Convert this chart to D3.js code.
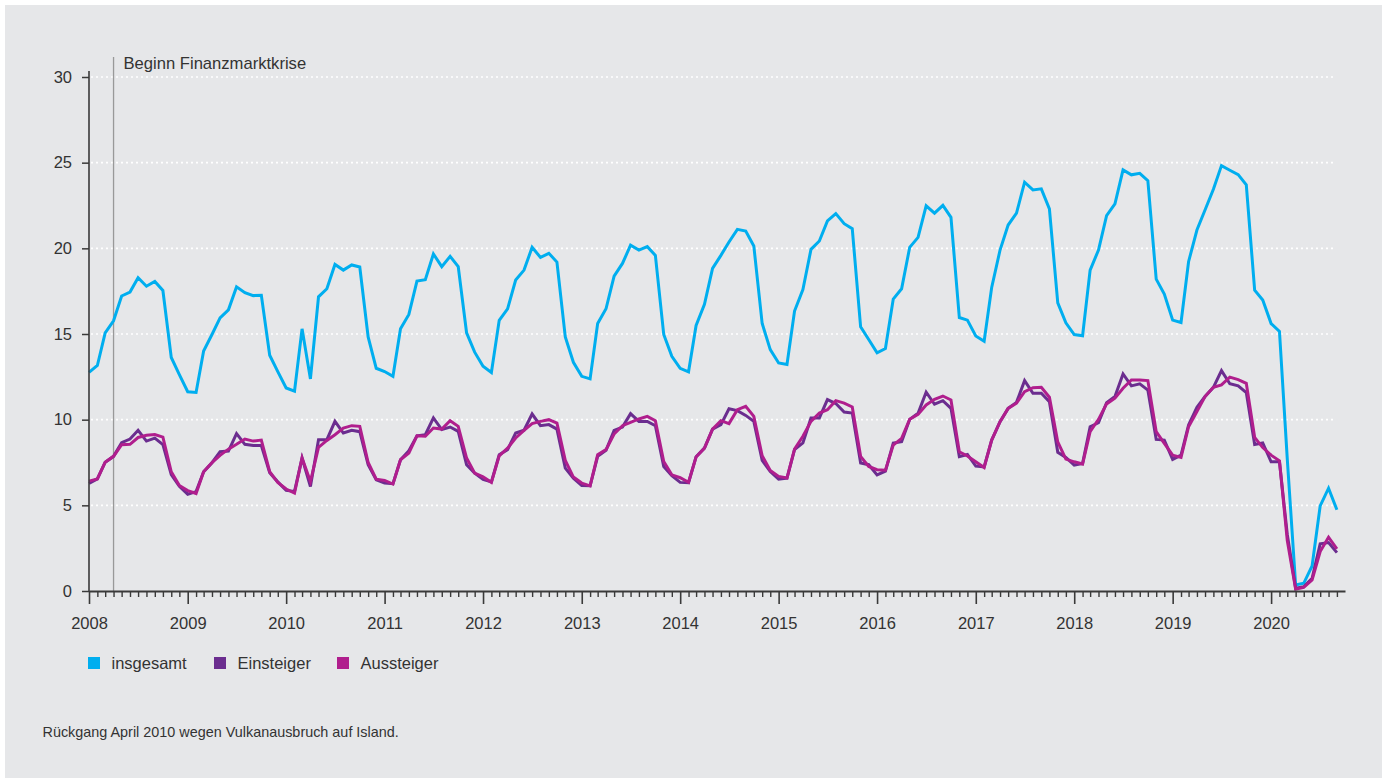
<!DOCTYPE html>
<html><head><meta charset="utf-8">
<script src="https://cdn.jsdelivr.net/npm/d3@7"></script>
<style>body{margin:0;background:#fff}text{font-family:"Liberation Sans",Arial,sans-serif}</style>
</head><body><svg id="c" width="1389" height="783"></svg>
<script>
// ---- data (monthly, Jan 2008 .. Sep 2020) ----
const insgesamt = [
 12.76,13.16,15.07,15.77,17.22,17.45,18.28,17.79,18.07,17.54,13.63,12.63,
 11.63,11.59,14.01,14.97,15.94,16.41,17.75,17.41,17.24,17.26,13.76,12.80,
 11.85,11.66,15.30,12.38,17.17,17.64,19.06,18.73,19.03,18.91,14.83,13.00,
 12.81,12.53,15.30,16.14,18.09,18.17,19.67,18.93,19.53,18.93,15.07,13.94,
 13.12,12.75,15.80,16.47,18.15,18.73,20.06,19.47,19.71,19.20,14.83,13.35,
 12.53,12.38,15.61,16.47,18.38,19.12,20.18,19.90,20.10,19.59,14.97,13.70,
 13.00,12.79,15.50,16.73,18.83,19.59,20.37,21.11,21.01,20.14,15.61,14.09,
 13.31,13.22,16.34,17.60,19.94,20.43,21.60,22.03,21.44,21.15,15.42,14.68,
 13.90,14.15,17.04,17.64,20.06,20.64,22.48,22.05,22.51,21.81,15.96,15.81,
 14.88,14.58,17.72,19.90,21.36,22.05,23.86,23.41,23.47,22.30,16.82,15.65,
 14.97,14.90,18.73,19.90,21.91,22.59,24.58,24.29,24.38,23.95,18.20,17.33,
 15.81,15.67,19.22,21.07,22.24,23.45,24.83,24.56,24.30,23.70,17.56,16.98,
 15.61,15.15,7.70,0.35,0.45,1.46,4.97,6.00,4.74
];
const einsteiger = [
 6.28,6.54,7.52,7.86,8.66,8.87,9.38,8.75,8.92,8.54,6.79,6.11,
 5.65,5.80,6.96,7.49,8.13,8.17,9.19,8.56,8.49,8.49,6.90,6.37,
 5.87,5.81,7.76,6.10,8.83,8.83,9.90,9.22,9.38,9.30,7.37,6.49,
 6.30,6.26,7.66,8.19,9.06,9.12,10.10,9.42,9.57,9.32,7.37,6.88,
 6.51,6.37,7.95,8.25,9.22,9.38,10.33,9.65,9.71,9.45,7.17,6.59,
 6.16,6.14,7.86,8.21,9.38,9.57,10.35,9.90,9.90,9.65,7.27,6.73,
 6.34,6.32,7.84,8.34,9.45,9.71,10.64,10.53,10.25,9.90,7.62,6.98,
 6.53,6.59,8.25,8.64,10.10,10.10,11.17,10.94,10.45,10.39,7.47,7.37,
 6.78,7.00,8.63,8.71,10.02,10.37,11.60,10.90,11.11,10.66,7.84,7.97,
 7.29,7.25,8.81,9.88,10.66,11.01,12.28,11.54,11.54,11.05,8.10,7.80,
 7.35,7.45,9.59,9.82,10.99,11.35,12.67,11.97,12.09,11.73,8.85,8.81,
 7.68,7.93,9.69,10.72,11.35,11.89,12.86,12.10,11.97,11.58,8.55,8.64,
 7.54,7.54,3.30,0.16,0.25,0.74,2.75,2.83,2.24
];
const aussteiger = [
 6.41,6.54,7.52,7.86,8.54,8.56,8.96,9.09,9.13,8.98,6.96,6.16,
 5.86,5.69,6.96,7.49,7.92,8.28,8.56,8.87,8.75,8.81,6.96,6.33,
 5.95,5.71,7.76,6.39,8.38,8.79,9.12,9.51,9.65,9.61,7.50,6.53,
 6.45,6.24,7.66,8.05,9.06,9.03,9.51,9.45,9.94,9.61,7.76,6.88,
 6.66,6.34,7.89,8.34,8.93,9.38,9.77,9.90,10.00,9.80,7.62,6.65,
 6.30,6.14,7.95,8.25,9.16,9.65,9.84,10.04,10.19,9.94,7.56,6.78,
 6.61,6.35,7.82,8.34,9.45,9.94,9.77,10.58,10.78,10.19,7.89,7.04,
 6.69,6.59,8.28,9.03,9.90,10.39,10.58,11.11,10.97,10.74,7.86,7.27,
 7.08,7.05,8.52,8.91,10.02,10.31,10.86,11.19,11.38,11.15,8.13,7.88,
 7.54,7.21,8.81,9.88,10.66,10.96,11.64,11.87,11.89,11.31,8.70,7.70,
 7.54,7.41,9.30,10.02,10.92,11.25,11.83,12.32,12.32,12.28,9.30,8.62,
 7.93,7.80,9.59,10.47,11.35,11.89,12.03,12.48,12.34,12.12,8.97,8.37,
 7.93,7.60,2.95,0.10,0.21,0.64,2.30,3.14,2.46
];
const seriesNames = ["insgesamt","Einsteiger","Aussteiger"];
const seriesColors = ["#00aeef","#6b2d8f","#b01e8d"];
const yTicks = [0,5,10,15,20,25,30];
const yearLabels = ["2008","2009","2010","2011","2012","2013","2014","2015","2016","2017","2018","2019","2020"];
const annotationDate = new Date(2008,3,1);
const annotationLabel = "Beginn Finanzmarktkrise";
const footnote = "Rückgang April 2010 wegen Vulkanausbruch auf Island.";

// ---- drawing ----
const svg = d3.select("#c");
const textCol = "#333";
const axisCol = "#3a3a3a";
svg.append("rect").attr("x",5).attr("y",5).attr("width",1377).attr("height",773).attr("fill","#e6e7e9");

const dates = insgesamt.map((_,i)=>new Date(2008,i,1));
const x = d3.scaleTime().domain([new Date(2008,0,1), new Date(2020,9,1)]).range([89,1345]);
const y = d3.scaleLinear().domain([0,30]).range([591,77]);

// grid
svg.append("g").selectAll("line").data(yTicks.filter(d=>d>0)).join("line")
  .attr("x1",91).attr("x2",1336).attr("y1",d=>y(d)).attr("y2",d=>y(d))
  .attr("stroke","#fff").attr("stroke-width",1.6).attr("stroke-dasharray","2,3");

// annotation
svg.append("line").attr("x1",x(annotationDate)).attr("x2",x(annotationDate))
  .attr("y1",57).attr("y2",591).attr("stroke","#999").attr("stroke-width",1.3);
svg.append("text").attr("x",x(annotationDate)+10).attr("y",69).attr("fill",textCol)
  .attr("font-size",16.6).text(annotationLabel);

// lines
const series = [insgesamt, einsteiger, aussteiger];
const line = d3.line().x((d,i)=>x(dates[i])).y(d=>y(d));
series.forEach((s,k)=>{
  svg.append("path").datum(s).attr("d",line).attr("fill","none")
    .attr("stroke",seriesColors[k]).attr("stroke-width",3);
});

// y axis
const yAx = svg.append("g").attr("transform","translate(89,0)")
  .call(d3.axisLeft(y).tickValues(yTicks).tickSize(7).tickSizeOuter(0).tickPadding(10));
yAx.select(".domain").remove();
yAx.selectAll(".tick line").attr("stroke",axisCol).attr("stroke-width",1.5);
yAx.selectAll("text").attr("font-size",16.5).attr("fill",textCol).attr("font-family",null);
svg.append("line").attr("x1",89).attr("x2",89).attr("y1",71).attr("y2",591)
  .attr("stroke",axisCol).attr("stroke-width",1.6);

// x axis minor
const monthTicks = d3.timeMonth.range(new Date(2008,1,1), new Date(2020,9,1)).filter(d=>d.getMonth()!==0);
const xMin = svg.append("g").attr("transform","translate(0,591)")
  .call(d3.axisBottom(x).tickValues(monthTicks).tickSize(6).tickSizeOuter(0).tickFormat(""));
xMin.select(".domain").attr("stroke",axisCol).attr("stroke-width",2);
xMin.selectAll(".tick line").attr("stroke",axisCol).attr("stroke-width",1.4);
// x axis major
const yearTicks = yearLabels.map(s=>new Date(+s,0,1));
const xMaj = svg.append("g").attr("transform","translate(0,591)")
  .call(d3.axisBottom(x).tickValues(yearTicks).tickSize(13).tickSizeOuter(0).tickPadding(13)
    .tickFormat((d,i)=>yearLabels[i]));
xMaj.select(".domain").remove();
xMaj.selectAll(".tick line").attr("stroke",axisCol).attr("stroke-width",1.6);
xMaj.selectAll("text").attr("font-size",16.5).attr("fill",textCol).attr("font-family",null);

// legend
const legX = [88,214,337];
seriesNames.forEach((n,k)=>{
  svg.append("rect").attr("x",legX[k]).attr("y",657).attr("width",12).attr("height",12).attr("fill",seriesColors[k]);
  svg.append("text").attr("x",legX[k]+23.5).attr("y",669).attr("font-size",16.5).attr("fill",textCol).text(n);
});

// footnote
svg.append("text").attr("x",42.5).attr("y",737).attr("font-size",14.4).attr("fill",textCol).text(footnote);
</script></body></html>
